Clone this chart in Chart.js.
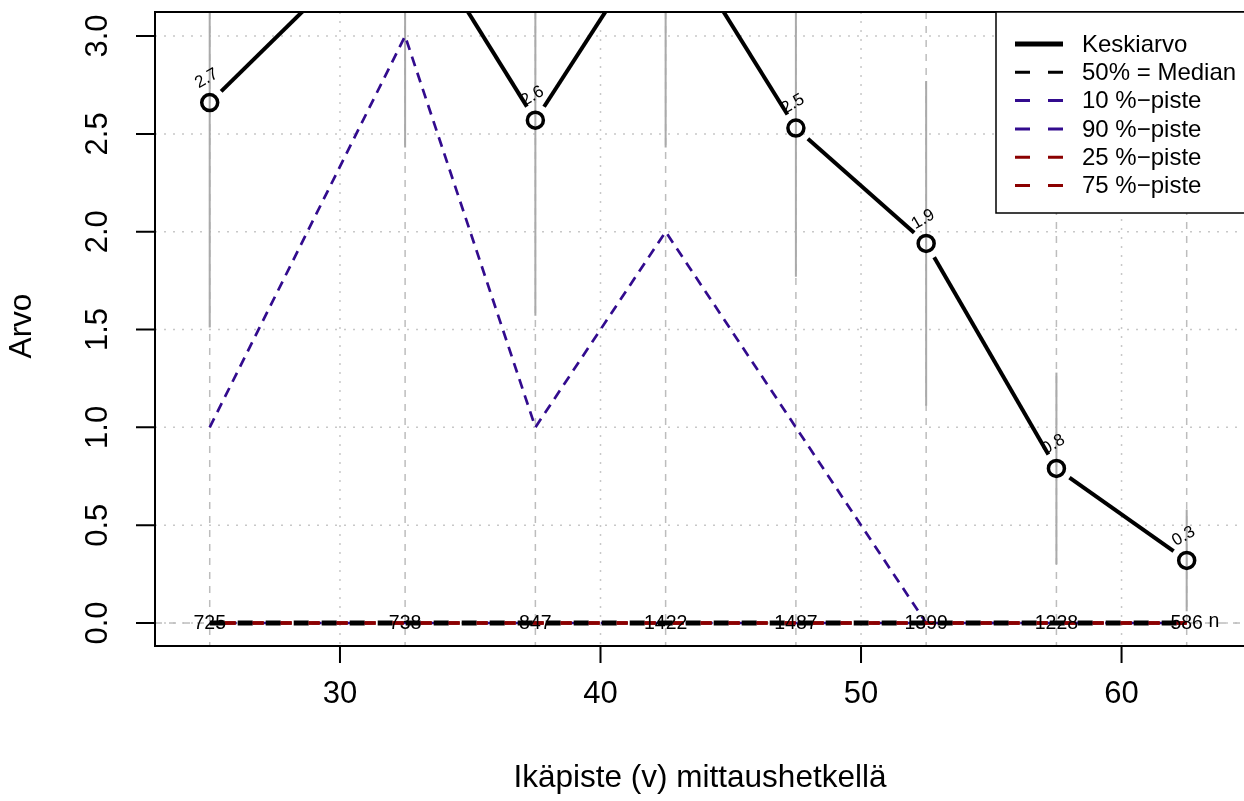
<!DOCTYPE html>
<html lang="fi">
<head>
<meta charset="UTF-8">
<title>Keskiarvo ja persentiilit</title>
<script src="https://cdn.jsdelivr.net/npm/chart.js"></script>
<style>
    html, body { margin: 0; padding: 0; background: #fff; }
    canvas { display: block; }
</style>
</head>
<body>
<canvas id="chart" width="1244" height="801"></canvas>
<script>
// ikäpisteet (x) ja tunnusluvut
const ages = [25, 32.5, 37.5, 42.5, 47.5, 52.5, 57.5, 62.5];
const keskiarvo = [2.66, 3.64, 2.57, 3.6, 2.53, 1.94, 0.79, 0.32];
const vaihteluAla = [1.51, 2.43, 1.57, 2.43, 1.77, 1.11, 0.3, 0.06];
const vaihteluYla = [3.81, 4.85, 3.57, 4.77, 3.29, 2.77, 1.28, 0.58];
const median = [0, 0, 0, 0, 0, 0, 0, 0];
const p10 = [0, 0, 0, 0, 0, 0, 0, 0];
const p90 = [1, 3, 1, 2, 1, 0, 0, 0];
const p25 = [0, 0, 0, 0, 0, 0, 0, 0];
const p75 = [0, 0, 0, 0, 0, 0, 0, 0];
const nLkm = [725, 738, 847, 1422, 1487, 1399, 1228, 586];
const xTicks = [30, 40, 50, 60];
const yTicks = [0, 0.5, 1, 1.5, 2, 2.5, 3];
const yTickLabels = ["0.0", "0.5", "1.0", "1.5", "2.0", "2.5", "3.0"];

const PURPLE = "#320b8e";
const DARKRED = "#8b0000";
const FONT = '"Liberation Sans", Arial, sans-serif';

const pts = (arr) => ages.map((a, i) => ({ x: a, y: arr[i] }));

function dashed(label, arr, color, width, dash, offset, order) {
    return {
        label: label,
        data: pts(arr),
        borderColor: color,
        borderWidth: width,
        borderDash: dash,
        borderDashOffset: offset,
        pointRadius: 0,
        fill: false,
        tension: 0,
        order: order,
    };
}

const datasets = [
    {
        label: "Keskiarvo",
        data: pts(keskiarvo),
        showLine: false,
        borderColor: "#000",
        borderWidth: 5,
        pointRadius: 8,
        pointBorderWidth: 3.5,
        pointBorderColor: "#000",
        pointBackgroundColor: "rgba(0,0,0,0)",
        order: 0,
    },
    dashed("50% = Median", median, "#000", 5, [15, 13], 0, 3),
    dashed("10 %\u2212piste", p10, PURPLE, 2.7, [10, 7], 0, 5),
    dashed("90 %\u2212piste", p90, PURPLE, 2.7, [10, 7], 0, 4),
    dashed("25 %\u2212piste", p25, DARKRED, 3.5, [11, 17], -15, 2),
    dashed("75 %\u2212piste", p75, DARKRED, 3.5, [11, 17], -15, 1),
];

const rPlot = {
    id: "rPlot",
    beforeDatasetsDraw(chart) {
        const { ctx, chartArea: a } = chart;
        const xs = chart.scales.x, ys = chart.scales.y;
        ctx.save();
        ctx.beginPath();
        ctx.rect(a.left, a.top, a.right - a.left, a.bottom - a.top);
        ctx.clip();
        // pisteviiva-ruudukko
        ctx.strokeStyle = "#c8c8c8";
        ctx.lineWidth = 1.5;
        ctx.setLineDash([2, 7]);
        yTicks.forEach((v) => {
            const y = ys.getPixelForValue(v);
            ctx.beginPath(); ctx.moveTo(a.left, y); ctx.lineTo(a.right, y); ctx.stroke();
        });
        xTicks.forEach((v) => {
            const x = xs.getPixelForValue(v);
            ctx.beginPath(); ctx.moveTo(x, a.top); ctx.lineTo(x, a.bottom); ctx.stroke();
        });
        // katkoviivat ikäpisteissä ja nollatasolla
        ctx.strokeStyle = "#bdbdbd";
        ctx.setLineDash([7, 7]);
        ages.forEach((v) => {
            const x = xs.getPixelForValue(v);
            ctx.beginPath(); ctx.moveTo(x, a.top); ctx.lineTo(x, a.bottom); ctx.stroke();
        });
        const y0 = ys.getPixelForValue(0);
        ctx.beginPath(); ctx.moveTo(a.left, y0); ctx.lineTo(a.right, y0); ctx.stroke();
        // vaihteluvälit
        ctx.setLineDash([]);
        ctx.strokeStyle = "#aaaaaa";
        ctx.lineWidth = 2;
        ages.forEach((v, i) => {
            const x = xs.getPixelForValue(v);
            ctx.beginPath();
            ctx.moveTo(x, ys.getPixelForValue(vaihteluAla[i]));
            ctx.lineTo(x, ys.getPixelForValue(vaihteluYla[i]));
            ctx.stroke();
        });
        ctx.restore();
    },
    afterDatasetsDraw(chart) {
        const { ctx, chartArea: a } = chart;
        const xs = chart.scales.x, ys = chart.scales.y;
        ctx.save();
        ctx.beginPath();
        ctx.rect(a.left, a.top, a.right - a.left, a.bottom - a.top);
        ctx.clip();
        // keskiarvoviiva, jossa väli pisteiden kohdalla (type = "b")
        ctx.strokeStyle = "#000";
        ctx.lineWidth = 4;
        ctx.lineCap = "butt";
        const gap = 16;
        for (let i = 0; i < ages.length - 1; i++) {
            const x1 = xs.getPixelForValue(ages[i]), y1 = ys.getPixelForValue(keskiarvo[i]);
            const x2 = xs.getPixelForValue(ages[i + 1]), y2 = ys.getPixelForValue(keskiarvo[i + 1]);
            const d = Math.hypot(x2 - x1, y2 - y1);
            const ux = (x2 - x1) / d, uy = (y2 - y1) / d;
            ctx.beginPath();
            ctx.moveTo(x1 + ux * gap, y1 + uy * gap);
            ctx.lineTo(x2 - ux * gap, y2 - uy * gap);
            ctx.stroke();
        }
        // keskiarvojen arvot vinossa
        ctx.fillStyle = "#000";
        ctx.font = "17px " + FONT;
        ctx.textAlign = "center";
        ctx.textBaseline = "middle";
        ages.forEach((v, i) => {
            const x = xs.getPixelForValue(v), y = ys.getPixelForValue(keskiarvo[i]);
            ctx.save();
            ctx.translate(x - 3, y - 24);
            ctx.rotate(-30 * Math.PI / 180);
            ctx.fillText(keskiarvo[i].toFixed(1), 0, 0);
            ctx.restore();
        });
        // n-lukumäärät nollatasolla
        ctx.font = "19.5px " + FONT;
        const y0 = ys.getPixelForValue(0);
        ages.forEach((v, i) => {
            ctx.fillText(String(nLkm[i]), xs.getPixelForValue(v), y0 + 1);
        });
        ctx.fillText("n", xs.getPixelForValue(63.55), y0 - 1);
        ctx.restore();
    },
    afterDraw(chart) {
        const { ctx, chartArea: a } = chart;
        const xs = chart.scales.x, ys = chart.scales.y;
        const W = chart.width;
        ctx.save();
        // kuvaajan kehys
        ctx.strokeStyle = "#000";
        ctx.lineWidth = 2;
        ctx.setLineDash([]);
        ctx.beginPath();
        ctx.moveTo(W + 5, a.top);
        ctx.lineTo(a.left, a.top);
        ctx.lineTo(a.left, a.bottom);
        ctx.lineTo(W + 5, a.bottom);
        ctx.stroke();
        // x-akseli
        ctx.fillStyle = "#000";
        ctx.font = "31px " + FONT;
        ctx.textAlign = "center";
        ctx.textBaseline = "middle";
        ctx.beginPath();
        xTicks.forEach((v) => {
            const x = xs.getPixelForValue(v);
            ctx.moveTo(x, a.bottom); ctx.lineTo(x, a.bottom + 17);
        });
        ctx.stroke();
        xTicks.forEach((v) => ctx.fillText(String(v), xs.getPixelForValue(v), 694));
        // y-akseli
        ctx.beginPath();
        yTicks.forEach((v) => {
            const y = ys.getPixelForValue(v);
            ctx.moveTo(a.left, y); ctx.lineTo(a.left - 19, y);
        });
        ctx.stroke();
        yTicks.forEach((v, i) => {
            ctx.save();
            ctx.translate(98, ys.getPixelForValue(v));
            ctx.rotate(-Math.PI / 2);
            ctx.fillText(yTickLabels[i], 0, 0);
            ctx.restore();
        });
        // akselien otsikot
        ctx.font = "31.5px " + FONT;
        ctx.fillText("Ikäpiste (v) mittaushetkellä", 700, 778);
        ctx.save();
        ctx.translate(22, 326);
        ctx.rotate(-Math.PI / 2);
        ctx.fillText("Arvo", 0, 0);
        ctx.restore();
        // selite
        const lx = 996, ly = 12;
        ctx.fillStyle = "#fff";
        ctx.fillRect(lx, ly, W - lx + 5, 201);
        ctx.lineWidth = 1.5;
        ctx.strokeRect(lx, ly, W - lx + 10, 201);
        ctx.textAlign = "left";
        ctx.font = "24px " + FONT;
        chart.data.datasets.forEach((ds, i) => {
            const y = 44 + i * 28.3;
            ctx.strokeStyle = ds.borderColor;
            ctx.setLineDash([]);
            ctx.beginPath();
            if (i === 0) {
                ctx.lineWidth = 5;
                ctx.moveTo(1015, y); ctx.lineTo(1063, y);
            } else {
                ctx.lineWidth = 3;
                ctx.moveTo(1015, y); ctx.lineTo(1030, y);
                ctx.moveTo(1048, y); ctx.lineTo(1063, y);
            }
            ctx.stroke();
            ctx.fillStyle = "#000";
            ctx.fillText(ds.label, 1082, y + 1);
        });
        ctx.restore();
    },
};

new Chart(document.getElementById("chart").getContext("2d"), {
    type: "line",
    data: { datasets: datasets },
    options: {
        responsive: false,
        devicePixelRatio: 1,
        animation: false,
        layout: { autoPadding: false, padding: { left: 155, top: 12, right: 0, bottom: 155 } },
        scales: {
            x: { type: "linear", min: 22.9, max: 64.7, display: false },
            y: { type: "linear", min: -0.1175, max: 3.123, display: false },
        },
        plugins: { legend: { display: false }, tooltip: { enabled: false } },
    },
    plugins: [rPlot],
});
</script>
</body>
</html>
